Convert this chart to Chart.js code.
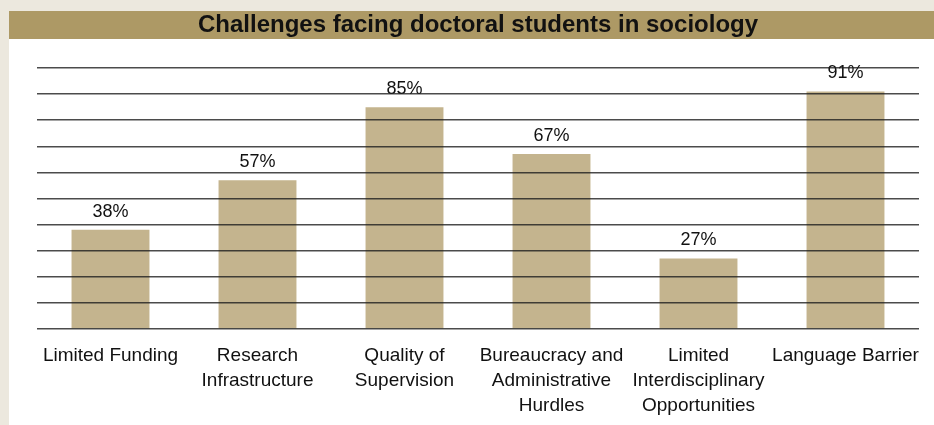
<!DOCTYPE html>
<html>
<head>
<meta charset="utf-8">
<script src="https://cdn.jsdelivr.net/npm/chart.js@4/dist/chart.umd.min.js"></script>
<style>
  html, body { margin: 0; padding: 0; background: #ece8de; overflow: hidden; }
  #wrap { position: absolute; left: 9px; top: 11px; width: 925px; height: 414px; background: #fff; }
</style>
</head>
<body>
<div id="wrap"><canvas id="chart" width="925" height="414"></canvas></div>
<script>
const categories = [
    'Limited Funding',
    ['Research', 'Infrastructure'],
    ['Quality of', 'Supervision'],
    ['Bureaucracy and', 'Administrative', 'Hurdles'],
    ['Limited', 'Interdisciplinary', 'Opportunities'],
    'Language Barrier'
];
const shares = [38, 57, 85, 67, 27, 91];
const chartTitle = 'Challenges facing doctoral students in sociology';

const titleBand = {
    id: 'titleBand',
    beforeDraw(chart) {
        const ctx = chart.ctx;
        const tb = chart.titleBlock;
        ctx.save();
        ctx.fillStyle = '#ad9965';
        ctx.fillRect(0, tb.top, chart.width, 28);
        ctx.restore();
    }
};

const valueLabels = {
    id: 'valueLabels',
    afterDatasetsDraw(chart) {
        const ctx = chart.ctx;
        const meta = chart.getDatasetMeta(0);
        ctx.save();
        ctx.font = '18px "Liberation Sans", Arial, sans-serif';
        ctx.fillStyle = '#111';
        ctx.textAlign = 'center';
        ctx.textBaseline = 'alphabetic';
        meta.data.forEach((bar, i) => {
            ctx.fillText(shares[i] + '%', bar.x, bar.y - 13);
        });
        ctx.restore();
    }
};

// eslint-disable-next-line no-unused-vars
const barChart = new Chart(document.getElementById('chart'), {
    type: 'bar',
    data: {
        labels: categories,
        datasets: [{
            data: shares,
            backgroundColor: '#c4b48e',
            categoryPercentage: 1,
            barPercentage: 0.53
        }]
    },
    options: {
        responsive: false,
        animation: false,
        layout: { padding: { left: 28, right: 15, top: 0, bottom: 0 } },
        plugins: {
            legend: { display: false },
            tooltip: { enabled: false },
            title: {
                display: true,
                text: chartTitle,
                color: '#111',
                font: { family: '"Liberation Sans", Arial, sans-serif', size: 24, weight: 'bold', lineHeight: 1 },
                padding: { top: 2, bottom: 31 }
            }
        },
        scales: {
            x: {
                grid: { display: false },
                border: { display: false },
                ticks: {
                    color: '#111',
                    autoSkip: false,
                    maxRotation: 0,
                    padding: 7,
                    font: { family: '"Liberation Sans", Arial, sans-serif', size: 19, lineHeight: 1.3 }
                }
            },
            y: {
                min: 0,
                max: 100,
                ticks: { display: false, stepSize: 10 },
                border: { display: false },
                grid: { color: 'rgba(30,30,30,0.8)', lineWidth: 1.5, drawTicks: false, z: 1 }
            }
        }
    },
    plugins: [titleBand, valueLabels]
});
</script>
</body>
</html>
